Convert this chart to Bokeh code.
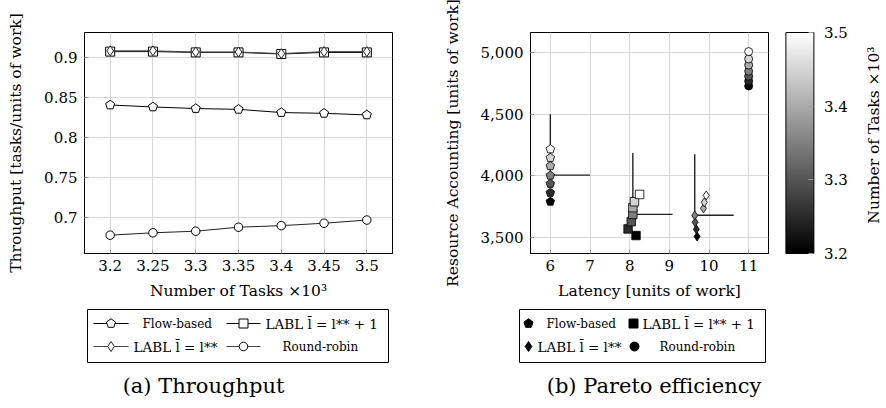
import math
from bokeh.plotting import figure
from bokeh.models import (ColumnDataSource, ColorBar, LinearColorMapper, FixedTicker,
                          NumeralTickFormatter, Range1d)
from bokeh.core.properties import value
from bokeh.layouts import row, column
from bokeh.palettes import Greys256
from bokeh.embed import file_html
from bokeh.resources import INLINE

# ---------------- data ----------------
tasks = [3.2, 3.25, 3.3, 3.35, 3.4, 3.45, 3.5]

# (a) throughput
tp_flow = [0.841, 0.8385, 0.8365, 0.8355, 0.8315, 0.8305, 0.8285]
tp_labl1 = [0.908, 0.908, 0.907, 0.907, 0.905, 0.907, 0.907]
tp_labl = [0.909, 0.909, 0.9075, 0.9075, 0.9055, 0.908, 0.908]
tp_rr = [0.6775, 0.6805, 0.6825, 0.6875, 0.6895, 0.6925, 0.6965]

# (b) pareto: latency / resource accounting per task count
lat_flow = [6.0, 6.0, 6.0, 6.0, 6.0, 6.0, 6.0]
res_flow = [3790, 3862, 3935, 4002, 4079, 4146, 4216]
lat_labl1 = [8.16, 7.96, 8.04, 8.08, 8.08, 8.12, 8.25]
res_labl1 = [3514, 3568, 3627, 3686, 3741, 3789, 3848]
lat_labl = [9.70, 9.68, 9.65, 9.64, 9.86, 9.88, 9.93]
res_labl = [3506, 3565, 3622, 3678, 3735, 3784, 3840]
lat_rr = [11.0, 11.0, 11.0, 11.0, 11.0, 11.0, 11.0]
res_rr = [4730, 4770, 4810, 4850, 4900, 4950, 5010]

# reference crosses
cross_x = [6.0, 8.08, 9.64]
cross_y = [4005, 3686, 3679]
cross_top = [4500, 4186, 4175]
cross_right = [7.0, 9.08, 10.62]

x_ticks_a = [3.2, 3.25, 3.3, 3.35, 3.4, 3.45, 3.5]
y_ticks_a = [0.7, 0.75, 0.8, 0.85, 0.9]
x_ticks_b = [6, 7, 8, 9, 10, 11]
y_ticks_b = [3500, 4000, 4500, 5000]
cb_ticks = [3.2, 3.3, 3.4, 3.5]

labels = ["Flow-based", "LABL l\u0304 = l** + 1", "LABL l\u0304 = l**", "Round-robin"]
cb_label = "Number of Tasks \u00d710\u00b3"
captions = ["(a) Throughput", "(b) Pareto efficiency"]

FONT = "DejaVu Serif"
TICK_FS = "15px"
LAB_FS = "15.5px"
TOP_H = 306
BOT_H = 102


def pent(p, x, y, size, **kw):
    try:
        return p.ngon(x=x, y=y, radius=size / 2, radius_units="screen", n=5,
                      angle=0.0, **kw)
    except Exception:
        return p.scatter(x=x, y=y, size=size, marker="hex", **kw)


def style(p, xt, yt, xfmt, yfmt, xlabel, ylabel):
    p.xaxis.ticker = FixedTicker(ticks=xt)
    p.yaxis.ticker = FixedTicker(ticks=yt)
    p.xaxis.formatter = NumeralTickFormatter(format=xfmt)
    p.yaxis.formatter = NumeralTickFormatter(format=yfmt)
    p.xaxis.axis_label = xlabel
    p.yaxis.axis_label = ylabel
    for ax in (p.xaxis[0], p.yaxis[0]):
        ax.major_label_text_font = FONT
        ax.major_label_text_font_size = TICK_FS
        ax.major_label_text_color = "black"
        ax.axis_label_text_font = FONT
        ax.axis_label_text_font_size = LAB_FS
        ax.axis_label_text_font_style = "normal"
        ax.axis_label_text_color = "black"
        ax.major_tick_in = 4
        ax.major_tick_out = 0
        ax.minor_tick_line_color = None
        ax.major_tick_line_color = "#9a9a9a"
        ax.axis_line_color = "black"
    p.xaxis.major_label_standoff = 6
    p.xaxis.axis_label_standoff = 8
    p.yaxis.major_label_standoff = 7
    p.yaxis.axis_label_standoff = 16
    p.grid.grid_line_color = "#d9d9d9"
    p.grid.grid_line_width = 1
    p.outline_line_color = "black"
    p.background_fill_color = "white"
    p.border_fill_color = "white"


def blank(w, h):
    p = figure(width=w, height=h, x_range=Range1d(0, w), y_range=Range1d(0, h),
               output_backend="svg", toolbar_location=None, x_axis_type=None, y_axis_type=None,
               min_border=0, outline_line_color=None)
    p.grid.visible = False
    return p


def txt(p, x, y, s, size, align="left", angle=0.0):
    p.text(x=[x], y=[y], text=[s], angle=angle, text_align=align, text_baseline="middle",
           text_font=value(FONT), text_font_size=value(size), text_color="black")


# ---------------- (a) Throughput ----------------
p1 = figure(width=440, height=TOP_H, x_range=Range1d(3.17, 3.53), y_range=Range1d(0.6545, 0.932),
            output_backend="svg", toolbar_location=None,
            min_border_left=84, min_border_right=48, min_border_top=32, min_border_bottom=53)
style(p1, x_ticks_a, y_ticks_a, "0.0[0]", "0.0[0]",
      "Number of Tasks \u00d710\u00b3", "Throughput [tasks/units of work]")

p1.line(tasks, tp_flow, line_color="black", line_width=1)
pent(p1, tasks, tp_flow, 9.5, fill_color="white", line_color="black", line_width=1)
p1.line(tasks, tp_labl1, line_color="black", line_width=1)
p1.scatter(tasks, tp_labl1, size=9, marker="square", fill_color="white", line_color="black", line_width=1)
p1.line(tasks, tp_labl, line_color="#444444", line_width=1)
p1.scatter(tasks, tp_labl, size=10, marker="diamond", fill_color="white", line_color="#222222", line_width=1)
p1.line(tasks, tp_rr, line_color="#222222", line_width=1)
p1.scatter(tasks, tp_rr, size=8.5, marker="circle", fill_color="white", line_color="black", line_width=1)

# ---------------- (b) Pareto efficiency ----------------
p2 = figure(width=420, height=TOP_H, x_range=Range1d(5.5, 11.5), y_range=Range1d(3368, 5165),
            output_backend="svg", toolbar_location=None,
            min_border_left=77, min_border_right=92, min_border_top=32, min_border_bottom=53)
style(p2, x_ticks_b, y_ticks_b, "0", "0,0",
      "Latency [units of work]", "Resource Accounting [units of work]")

mapper = LinearColorMapper(palette=Greys256, low=3.2, high=3.5)
cmap = {"field": "t", "transform": mapper}

p2.segment(x0=cross_x, y0=cross_y, x1=cross_x, y1=cross_top, line_color="#222222", line_width=1.4)
p2.segment(x0=cross_x, y0=cross_y, x1=cross_right, y1=cross_y, line_color="#222222", line_width=1.4)

s_flow = ColumnDataSource(dict(x=lat_flow, y=res_flow, t=tasks))
s_l1 = ColumnDataSource(dict(x=lat_labl1, y=res_labl1, t=tasks))
s_l = ColumnDataSource(dict(x=lat_labl, y=res_labl, t=tasks))
s_rr = ColumnDataSource(dict(x=lat_rr, y=res_rr, t=tasks))

pent(p2, "x", "y", 9, source=s_flow, fill_color=cmap, line_color="black", line_width=0.8)
p2.scatter("x", "y", source=s_l1, size=8.5, marker="square", fill_color=cmap, line_color="black", line_width=0.8)
p2.scatter("x", "y", source=s_l, size=9, marker="diamond", fill_color=cmap, line_color="black", line_width=0.8)
p2.scatter("x", "y", source=s_rr, size=8, marker="circle", fill_color=cmap, line_color="black", line_width=0.8)

cb = ColorBar(color_mapper=mapper, ticker=FixedTicker(ticks=cb_ticks),
              formatter=NumeralTickFormatter(format="0.0"), orientation="vertical",
              width=28, height=221, location=(255.4, 0), padding=0, margin=0,
              major_label_text_font=FONT, major_label_text_font_size=TICK_FS,
              major_label_text_color="black", label_standoff=10,
              bar_line_color="black", major_tick_line_color="#9a9a9a",
              major_tick_in=5, major_tick_out=0, minor_tick_line_color=None,
              border_line_color=None, background_fill_color=None)
p2.add_layout(cb, "center")

# rotated colour-bar label
p3 = blank(26, TOP_H)
txt(p3, 13, TOP_H - 142, cb_label, LAB_FS, align="center", angle=math.pi / 2)

# ---------------- legends + captions (drawn in pixel-unit panels) ----------------
r1, r2 = BOT_H - 17, BOT_H - 40   # legend rows

q1 = blank(440, BOT_H)
q1.quad(left=[87], right=[388], top=[BOT_H - 3], bottom=[BOT_H - 56],
        fill_color="white", line_color="black", line_width=1)
q1.segment(x0=[93, 226], y0=[r1, r1], x1=[128, 260], y1=[r1, r1], line_color="black", line_width=1)
q1.segment(x0=[93, 226], y0=[r2, r2], x1=[128, 260], y1=[r2, r2], line_color="#444444", line_width=1)
pent(q1, [110.5], [r1], 9.5, fill_color="white", line_color="black", line_width=1)
q1.scatter([243], [r1], size=9, marker="square", fill_color="white", line_color="black", line_width=1)
q1.scatter([110.5], [r2], size=10, marker="diamond", fill_color="white", line_color="#222222", line_width=1)
q1.scatter([243], [r2], size=8.5, marker="circle", fill_color="white", line_color="black", line_width=1)
txt(q1, 142, r1, labels[0], "12px")
txt(q1, 265, r1, labels[1], "13.5px")
txt(q1, 133, r2, labels[2], "13.5px")
txt(q1, 282, r2, labels[3], "12px")
txt(q1, 203, BOT_H - 79, captions[0], "21px", align="center")

q2 = blank(446, BOT_H)
q2.quad(left=[79], right=[325], top=[BOT_H - 3], bottom=[BOT_H - 56],
        fill_color="white", line_color="black", line_width=1)
pent(q2, [88], [r1], 9.5, fill_color="black", line_color="black")
q2.scatter([193], [r1], size=9, marker="square", fill_color="black", line_color="black")
q2.scatter([88], [r2], size=10, marker="diamond", fill_color="black", line_color="black")
q2.scatter([194], [r2], size=9, marker="circle", fill_color="black", line_color="black")
txt(q2, 106, r1, labels[0], "12px")
txt(q2, 202, r1, labels[1], "13.5px")
txt(q2, 97, r2, labels[2], "13.5px")
txt(q2, 219, r2, labels[3], "12px")
txt(q2, 213.5, BOT_H - 79, captions[1], "21px", align="center")

layout = column(row(p1, p2, p3), row(q1, q2))
open("out.html", "w").write(file_html(layout, INLINE))
